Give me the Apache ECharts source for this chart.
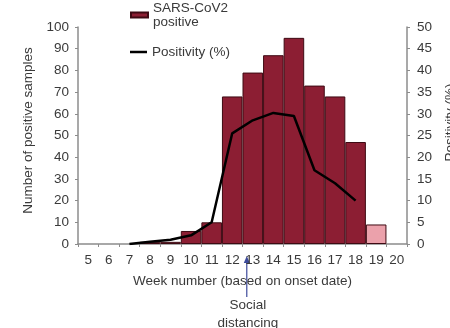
<!DOCTYPE html>
<html>
<head>
<meta charset="utf-8">
<style>
  html, body { margin: 0; padding: 0; background: #fff; }
  #chart { width: 450px; height: 328px; }
</style>
<script src="https://cdn.jsdelivr.net/npm/echarts@6/dist/echarts.min.js"></script>
</head>
<body>
<div id="chart"></div>
<script>
// Weekly SARS-CoV2 positive samples and test positivity
const weeks = ['5', '6', '7', '8', '9', '10', '11', '12', '13', '14', '15', '16', '17', '18', '19', '20'];
const positiveSamples = [0, 0, 0, 1, 1, 6, 10, 68, 79, 87, 95, 73, 68, 47, 9, 0];
const positivityPct = [null, null, 0, 0.5, 1, 2, 5, 25.5, 28.5, 30.2, 29.5, 17, 14, 10, null, null];
const incompleteWeek = '19';
const leftTicks = { min: 0, max: 100, interval: 10 };
const rightTicks = { min: 0, max: 50, interval: 5 };

const FONT = 'Liberation Sans, Arial, sans-serif';
const TEXT = '#3a3a3a';
const AXIS = '#8c8c8c';
const BAR = '#8c1e33';
const BAR_EDGE = '#3e0a13';
const BAR_LIGHT = '#eba1ab';

// empty weeks get no bar at all (no outline on the baseline)
const barData = positiveSamples.map((v, i) => {
  if (v === 0) return '-';
  return weeks[i] === incompleteWeek ? { value: v, itemStyle: { color: BAR_LIGHT } } : v;
});

const chart = echarts.init(document.getElementById('chart'), null, { renderer: 'canvas' });

chart.setOption({
  animation: false,
  backgroundColor: '#fff',
  textStyle: { fontFamily: FONT },
  grid: { left: 78, right: 43, top: 27, bottom: 84, outerBoundsMode: 'none', containLabel: false },
  legend: [
    {
      data: [{ name: 'SARS-CoV2 positive', icon: 'rect' }],
      left: 130, top: -6, padding: 0,
      itemWidth: 17, itemHeight: 5, itemGap: 0,
      formatter: n => n.replace(' ', '\n'),
      textStyle: { fontFamily: FONT, fontSize: 13.5, color: TEXT, lineHeight: 14, padding: [14, 0, 0, 0] },
      selectedMode: false
    },
    {
      data: [{ name: 'Positivity (%)', icon: 'rect' }],
      left: 130, top: 45, padding: 0,
      itemWidth: 17, itemHeight: 2.5,
      itemStyle: { color: '#000', borderWidth: 0 },
      textStyle: { fontFamily: FONT, fontSize: 13.5, color: TEXT, lineHeight: 14 },
      selectedMode: false
    }
  ],
  xAxis: {
    type: 'category',
    data: weeks,
    boundaryGap: true,
    name: 'Week number (based on onset date)',
    nameLocation: 'middle',
    nameGap: 30,
    nameTextStyle: { fontFamily: FONT, fontSize: 13.5, color: TEXT },
    axisLine: { lineStyle: { color: AXIS, width: 1.5 } },
    axisTick: { show: true, length: 3, lineStyle: { color: AXIS } },
    axisLabel: { fontFamily: FONT, fontSize: 13.5, color: TEXT, margin: 9, interval: 0 }
  },
  yAxis: [
    {
      type: 'value',
      min: leftTicks.min, max: leftTicks.max, interval: leftTicks.interval,
      name: 'Number of positive samples',
      nameLocation: 'middle',
      nameGap: 38,
      nameTextStyle: { fontFamily: FONT, fontSize: 13.5, color: TEXT, padding: [0, 0, 0, 10] },
      axisLine: { show: true, lineStyle: { color: AXIS, width: 1.5 } },
      axisTick: { show: true, length: 3, lineStyle: { color: AXIS } },
      axisLabel: { fontFamily: FONT, fontSize: 13.5, color: TEXT, margin: 9 },
      splitLine: { show: false }
    },
    {
      type: 'value',
      position: 'right',
      min: rightTicks.min, max: rightTicks.max, interval: rightTicks.interval,
      name: 'Positivity (%)',
      nameLocation: 'middle',
      nameRotate: 90,
      nameGap: 35,
      nameTextStyle: { fontFamily: FONT, fontSize: 13.5, color: TEXT, padding: [0, 0, 0, 26] },
      axisLine: { show: true, lineStyle: { color: AXIS, width: 1.5 } },
      axisTick: { show: true, length: 3, lineStyle: { color: AXIS } },
      axisLabel: { fontFamily: FONT, fontSize: 13.5, color: TEXT, margin: 10 },
      splitLine: { show: false }
    }
  ],
  series: [
    {
      name: 'SARS-CoV2 positive',
      type: 'bar',
      yAxisIndex: 0,
      data: barData,
      barWidth: '100%',
      barGap: '-100%',
      itemStyle: { color: BAR, borderColor: BAR_EDGE, borderWidth: 1 }
    },
    {
      name: 'Positivity (%)',
      type: 'line',
      yAxisIndex: 1,
      data: positivityPct,
      symbol: 'none',
      connectNulls: false,
      lineStyle: { color: '#000', width: 2.5 },
      itemStyle: { color: '#000' },
      z: 5
    }
  ]
});

// "Social distancing" annotation arrow, over the start of the week 13 label
const ax = chart.convertToPixel({ xAxisIndex: 0 }, '13') - 6;
chart.setOption({
  graphic: [
    {
      type: 'line',
      shape: { x1: ax, y1: 297, x2: ax, y2: 262 },
      style: { stroke: '#3d4b9c', lineWidth: 1.2 }
    },
    {
      type: 'polygon',
      shape: { points: [[ax, 256], [ax - 3, 263], [ax + 3, 263]] },
      style: { fill: '#3d4b9c' }
    },
    {
      type: 'text',
      x: ax + 1, y: 296,
      style: {
        text: 'Social\ndistancing',
        font: '13.5px ' + FONT,
        fill: TEXT,
        align: 'center',
        verticalAlign: 'top',
        lineHeight: 18
      }
    }
  ]
});
</script>
</body>
</html>
